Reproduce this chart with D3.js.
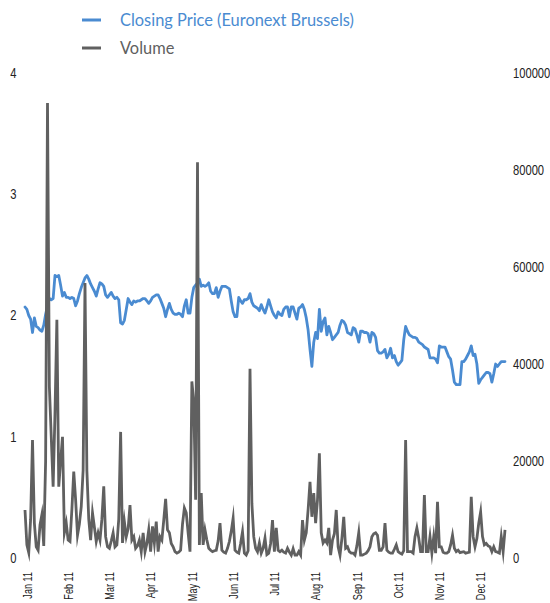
<!DOCTYPE html>
<html>
<head>
<meta charset="utf-8">
<script src="https://cdn.jsdelivr.net/npm/d3@7"></script>
<style>
  html, body { margin: 0; padding: 0; background: #fff; }
  svg { display: block; }
  .tick text { font-family: "Liberation Sans", Arial, sans-serif; }
</style>
</head>
<body>
<div id="chart"></div>
<script>
// ---------- DATA ----------
const seriesNames = ["Closing Price (Euronext Brussels)", "Volume"];
const tickLabels = ["Jan 11","Feb 11","Mar 11","Apr 11","May 11","Jun 11","Jul 11","Aug 11","Sep 11","Oct 11","Nov 11","Dec 11"];
const leftTicks = [0, 1, 2, 3, 4];
const rightTicks = [0, 20000, 40000, 60000, 80000, 100000];
const marketHolidays = ["2011-04-22", "2011-04-25", "2011-12-26"];

const closingPrice = [
2.07,2.05,2.00,1.97,1.86,1.98,1.91,1.90,1.88,1.87,1.92,2.01,2.08,2.14,2.13,2.14,2.33,2.32,2.33,2.25,
2.16,2.19,2.15,2.15,2.14,2.15,2.14,2.08,2.12,2.18,2.23,2.27,2.31,2.33,2.30,2.26,2.23,2.20,2.16,2.22,
2.27,2.26,2.24,2.17,2.15,2.17,2.19,2.16,2.14,2.15,2.13,1.94,1.93,1.96,2.05,2.14,2.11,2.09,2.12,2.11,
2.12,2.12,2.13,2.14,2.14,2.12,2.10,2.12,2.15,2.16,2.17,2.17,2.14,2.10,2.06,1.99,2.05,2.10,2.05,2.02,
2.01,2.01,2.02,2.01,1.99,2.08,2.13,2.02,2.02,2.15,2.23,2.25,2.27,2.30,2.24,2.25,2.24,2.25,2.27,2.20,
2.18,2.18,2.23,2.15,2.20,2.24,2.24,2.24,2.23,2.22,2.12,2.03,1.99,1.99,2.15,2.12,2.10,2.13,2.13,2.14,
2.18,2.11,2.08,2.07,2.06,2.04,2.09,2.05,2.02,2.07,2.13,2.08,2.03,2.00,1.98,2.03,2.01,2.00,2.05,2.07,
2.07,1.99,2.07,2.07,2.02,1.97,2.06,2.07,2.09,2.05,1.98,1.88,1.72,1.58,1.78,1.86,1.81,2.05,1.87,1.95,
1.98,1.84,1.91,1.86,1.80,1.82,1.84,1.86,1.92,1.96,1.95,1.92,1.86,1.85,1.84,1.90,1.89,1.84,1.78,1.87,
1.87,1.86,1.86,1.85,1.78,1.86,1.85,1.82,1.71,1.69,1.69,1.70,1.72,1.65,1.68,1.73,1.65,1.67,1.62,1.59,
1.61,1.63,1.80,1.91,1.87,1.84,1.83,1.82,1.82,1.81,1.78,1.77,1.76,1.74,1.73,1.72,1.65,1.65,1.65,1.64,
1.61,1.75,1.74,1.74,1.74,1.70,1.66,1.64,1.55,1.45,1.43,1.43,1.43,1.62,1.62,1.64,1.67,1.70,1.75,1.67,
1.68,1.60,1.44,1.47,1.49,1.51,1.53,1.53,1.52,1.45,1.52,1.60,1.58,1.60,1.62,1.62,1.62
];

const volume = [
9900,2700,1100,8000,24300,7200,2300,1600,6800,8900,2500,20000,93800,35300,25000,14700,30000,49100,14700,20000,
25000,5200,7200,3700,3400,10000,17800,12000,4700,7000,10600,18100,56700,18100,8000,3700,9300,6400,3400,5200,
3700,8000,14800,4400,2300,2000,3500,5200,2300,2700,8000,26000,3100,7500,4400,6000,10900,3700,4400,2000,
2500,3700,1300,5200,1300,3000,5800,1300,6500,3100,7500,1300,4400,3700,7800,12200,5800,5200,3000,2300,
1300,1000,1200,1600,7000,10300,9300,5200,1300,36400,32200,12000,81600,2700,13400,2700,5800,3700,2000,1600,
1300,1500,1600,3500,7200,1600,1200,1000,2000,3400,5500,8200,1600,1200,1000,3000,5400,1000,600,1500,
39000,11300,4400,2000,1300,3100,1000,2000,4100,700,1000,3000,7800,1300,6200,1600,1300,1600,1200,1000,
2000,1200,600,1900,600,600,1300,600,7800,3700,5200,10000,15700,8500,13400,7200,12000,21600,5200,3100,
3700,3100,6200,600,3700,5000,9900,2300,600,4000,8500,2000,2300,1300,1000,1000,600,2500,5200,600,
600,800,1000,1500,2300,4400,5000,5200,4700,1600,1600,2300,7200,1600,1200,1000,1000,1800,2700,1300,
1000,800,1500,24300,1300,1300,1300,1000,4400,6200,4100,1300,1300,13000,1300,1300,4400,1000,4400,1000,
11600,2300,2300,1200,1000,1000,1300,2700,4700,2000,1300,1600,1100,1200,1300,1000,1100,1200,12600,4400,
2300,4000,7200,9500,4400,2700,3000,2500,2300,1300,2300,1300,1200,1000,4400,1300,5800
];

// ---------- CATEGORIES (trading days of 2011) ----------
const fmtISO = d3.timeFormat("%Y-%m-%d");
const tradingDays = d3.timeDay.range(new Date(2011, 0, 1), new Date(2012, 0, 1))
  .filter(d => d.getDay() !== 0 && d.getDay() !== 6 && !marketHolidays.includes(fmtISO(d)));
const n = Math.min(tradingDays.length, closingPrice.length, volume.length);
const data = d3.range(n).map(i => ({ i, date: tradingDays[i], price: closingPrice[i], vol: volume[i] }));

// ---------- CHART ----------
const W = 550, H = 603;
const svg = d3.select("#chart").append("svg").attr("width", W).attr("height", H);

const x = d3.scalePoint().domain(d3.range(n)).range([25, 505]);
const yL = d3.scaleLinear().domain([0, 4]).range([558, 73]);
const yR = d3.scaleLinear().domain([0, 100000]).range([558, 73]);

const blue = "#4a8bd1";
const grey = "#606060";

// axes
const gL = svg.append("g").attr("transform", "translate(16.5,0)")
  .call(d3.axisLeft(yL).tickValues(leftTicks).tickFormat(d3.format("d")).tickSize(0).tickPadding(0));
const gR = svg.append("g").attr("transform", "translate(513,0)")
  .call(d3.axisRight(yR).tickValues(rightTicks).tickFormat(d3.format("d")).tickSize(0).tickPadding(0));
const xTickIdx = d3.range(n).filter(i => i % 22 === 0).slice(0, tickLabels.length);
const gB = svg.append("g").attr("transform", "translate(1.5,572)")
  .call(d3.axisBottom(x).tickValues(xTickIdx).tickFormat((d, k) => tickLabels[k]).tickSize(0));
[gL, gR].forEach(g => {
  g.selectAll(".tick text").attr("x", 0).attr("transform", "scale(0.8,1)")
    .attr("fill", "#222").style("font-size", "14px");
});
gB.selectAll(".tick text")
  .attr("transform", "rotate(-90) scale(0.7,1)")
  .attr("x", 0).attr("y", 0).attr("dy", "0.36em")
  .style("text-anchor", "end")
  .attr("fill", "#222").style("font-size", "13px");
[gL, gR, gB].forEach(g => g.select(".domain").remove());

// lines
const priceLine = d3.line().x(d => x(d.i)).y(d => yL(d.price)).curve(d3.curveLinear);
const volLine = d3.line().x(d => x(d.i)).y(d => yR(d.vol)).curve(d3.curveLinear);

svg.append("path").datum(data).attr("d", priceLine)
  .attr("fill", "none").attr("stroke", blue).attr("stroke-width", 2.8)
  .attr("stroke-linejoin", "round").attr("stroke-linecap", "round");
svg.append("path").datum(data).attr("d", volLine)
  .attr("fill", "none").attr("stroke", grey).attr("stroke-width", 2.8)
  .attr("stroke-linejoin", "miter").attr("stroke-miterlimit", 10);

// legend
const legend = svg.append("g");
const legendItems = [
  { name: seriesNames[0], color: blue, y: 20 },
  { name: seriesNames[1], color: grey, y: 48 }
];
legendItems.forEach(it => {
  legend.append("line").attr("x1", 82).attr("x2", 101).attr("y1", it.y).attr("y2", it.y)
    .attr("stroke", it.color).attr("stroke-width", 3);
  legend.append("text").attr("x", 120).attr("y", it.y).attr("dy", "0.36em")
    .attr("fill", it.color)
    .style("font-family", "Lato, 'Open Sans', sans-serif")
    .style("font-size", "16.4px")
    .text(it.name);
});
</script>
</body>
</html>
